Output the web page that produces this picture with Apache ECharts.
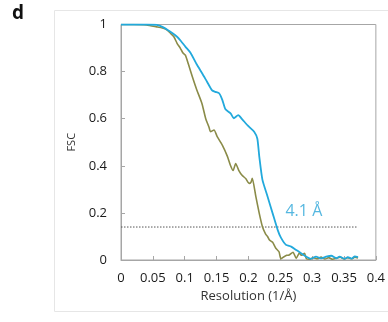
<!DOCTYPE html>
<html><head><meta charset="utf-8">
<script src="https://cdn.jsdelivr.net/npm/echarts@6/dist/echarts.min.js"></script>
<style>html,body{margin:0;padding:0;background:#fff}#c{width:388px;height:322px}</style>
</head><body><div id="c"></div>
<script>
const xTicks = [0, 0.05, 0.1, 0.15, 0.2, 0.25, 0.3, 0.35, 0.4];
const yTicks = [0, 0.2, 0.4, 0.6, 0.8, 1];
const blueX = [0,0.02,0.04,0.056,0.065,0.077,0.088,0.094,0.101,0.109,0.119,0.128,0.135,0.143,0.148,0.154,0.159,0.164,0.172,0.177,0.184,0.19,0.2,0.209,0.214,0.217,0.222,0.230,0.238,0.246,0.251,0.259,0.267,0.275,0.283,0.291,0.298,0.306,0.314,0.322,0.330,0.338,0.343,0.351,0.356,0.362,0.367,0.372];
const blueY = [1,1,1,0.998,0.99,0.97,0.948,0.93,0.906,0.88,0.83,0.79,0.757,0.72,0.714,0.708,0.68,0.64,0.623,0.602,0.615,0.598,0.568,0.545,0.515,0.44,0.34,0.27,0.198,0.127,0.095,0.064,0.057,0.042,0.028,0.014,0.005,0.014,0.007,0.014,0.018,0.007,0.014,0.005,0.012,0.006,0.015,0.012];
const oliveX = [0,0.02,0.04,0.056,0.065,0.072,0.078,0.083,0.088,0.093,0.097,0.101,0.106,0.112,0.119,0.127,0.133,0.138,0.1405,0.146,0.151,0.159,0.167,0.172,0.176,0.180,0.185,0.190,0.196,0.201,0.204,0.206,0.2116,0.217,0.222,0.227,0.230,0.233,0.238,0.243,0.248,0.251,0.256,0.260,0.264,0.27,0.275,0.28,0.283,0.288,0.291,0.296,0.302,0.308,0.314,0.32,0.326,0.332,0.338,0.344,0.35,0.356,0.362,0.367,0.372];
const oliveY = [1,1,0.998,0.99,0.985,0.977,0.962,0.948,0.92,0.9,0.88,0.87,0.83,0.778,0.722,0.665,0.6,0.565,0.545,0.552,0.524,0.488,0.44,0.40,0.38,0.41,0.38,0.36,0.345,0.325,0.33,0.347,0.27,0.198,0.141,0.11,0.10,0.085,0.075,0.05,0.035,0.005,0.014,0.02,0.021,0.033,0.007,0.03,0.02,0.028,0.005,0.003,0.01,0.005,0.012,0.004,0.01,0.003,0.008,0.012,0.004,0.01,0.005,0.012,0.008];
const thresholdX = [0, 0.372];
const thresholdY = [0.14, 0.14];
const annotationText = '4.1 Å';
const annotationPos = [0.287, 0.206];

const zip = (a, b) => a.map((v, i) => [v, b[i]]);
const chart = echarts.init(document.getElementById('c'), null, {renderer: 'canvas'});
const font = '"Open Sans", sans-serif';
chart.setOption({
  animation: false,
  graphic: [
    {type: 'rect', shape: {x: 54.5, y: 10.5, width: 340, height: 301}, style: {fill: 'none', stroke: '#e6e6e6', lineWidth: 1}, silent: true},
    {type: 'text', left: 12, top: 4, style: {text: 'd', font: 'bold 19px "Open Sans", sans-serif', fill: '#111'}}
  ],
  grid: {left: 121, right: 12, top: 24.5, bottom: 62, show: true, borderColor: '#a6a6a6', borderWidth: 1},
  xAxis: {
    type: 'value', min: 0, max: 0.4, interval: 0.05,
    name: 'Resolution (1/Å)', nameLocation: 'middle', nameGap: 26,
    nameTextStyle: {fontFamily: font, fontSize: 13, color: '#333'},
    axisLine: {show: true, lineStyle: {color: '#a6a6a6'}},
    axisTick: {show: true, inside: true, length: 4, lineStyle: {color: '#a6a6a6'}},
    axisLabel: {fontFamily: font, fontSize: 13, color: '#1a1a1a', margin: 12, formatter: v => String(+v.toFixed(2))},
    splitLine: {show: false}
  },
  yAxis: {
    type: 'value', min: 0, max: 1, interval: 0.2,
    name: 'FSC', nameLocation: 'middle', nameGap: 38,
    nameTextStyle: {fontFamily: font, fontSize: 11, color: '#333'},
    axisLine: {show: true, lineStyle: {color: '#a6a6a6'}},
    axisTick: {show: true, inside: true, length: 4, lineStyle: {color: '#a6a6a6'}},
    axisLabel: {fontFamily: font, fontSize: 13, color: '#1a1a1a', margin: 14, formatter: v => String(+v.toFixed(1))},
    splitLine: {show: false}
  },
  series: [
    {type: 'line', data: zip(thresholdX, thresholdY), symbol: 'none', lineStyle: {color: '#555', width: 1, type: [1.5, 1.5]}, silent: true},
    {type: 'line', data: zip(oliveX, oliveY), symbol: 'none', smooth: 0.2, lineStyle: {color: '#8a8b48', width: 1.6}},
    {type: 'line', data: zip(blueX, blueY), symbol: 'none', smooth: 0.2, lineStyle: {color: '#22a9dc', width: 1.8}},
    {type: 'scatter', data: [annotationPos], symbol: 'circle', symbolSize: 2, itemStyle: {color: 'rgba(255,255,255,0)'},
     label: {show: true, position: 'inside', formatter: annotationText, fontFamily: font, fontSize: 16, color: '#2aa5d8'}, silent: true, z: 5}
  ]
});
</script></body></html>
